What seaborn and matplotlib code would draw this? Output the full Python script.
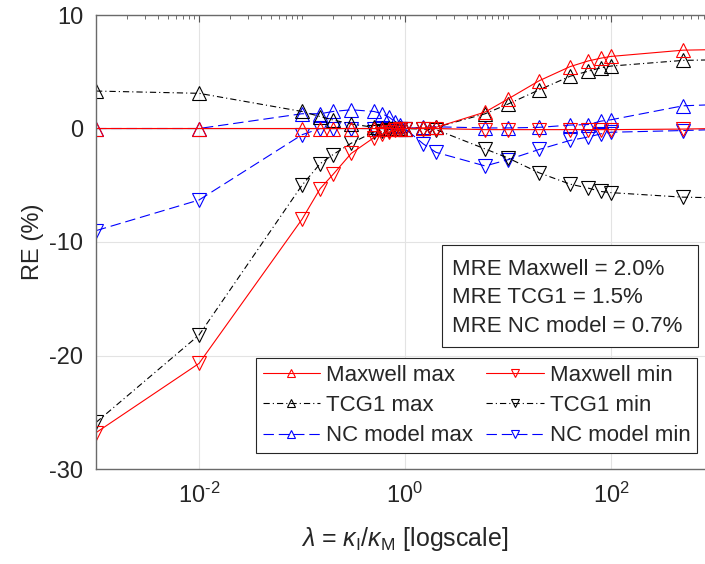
import numpy as np
import pandas as pd
import matplotlib
matplotlib.use("Agg")
import matplotlib.pyplot as plt
import matplotlib.ticker as mticker
from matplotlib.patches import Rectangle
import seaborn as sns

# ---------------- data ----------------
lam = [0.001, 0.01, 0.1, 0.15, 0.2, 0.3, 0.5, 0.6, 0.7, 0.8, 0.9, 1.0,
       1.5, 2, 6, 10, 20, 40, 60, 80, 100, 500, 1000]

maxwell_max = [0, 0, 0, 0, 0, 0, 0, 0, 0, 0, 0, 0,
               0.05, 0.1, 1.45, 2.6, 4.2, 5.45, 5.95, 6.2, 6.35, 6.9, 6.95]
maxwell_min = [-26.8, -20.7, -8.0, -5.3, -4.05, -2.2, -0.8, -0.5, -0.3, -0.15, -0.05, 0,
               0, 0, -0.1, -0.1, -0.1, -0.1, -0.1, -0.1, -0.1, -0.05, 0]
tcg1_max = [3.3, 3.1, 1.5, 1.05, 0.75, 0.4, 0.1, 0.05, 0.03, 0.02, 0.01, 0,
            0.05, 0.1, 1.3, 2.15, 3.4, 4.6, 5.05, 5.35, 5.5, 6.0, 6.05]
tcg1_min = [-25.9, -18.2, -5.0, -3.1, -2.3, -1.3, -0.3, -0.2, -0.1, -0.05, -0.02, 0,
            -0.05, -0.1, -1.8, -2.6, -3.9, -4.9, -5.25, -5.55, -5.65, -6.05, -6.1]
nc_max = [0, 0, 1.3, 1.3, 1.5, 1.65, 1.5, 1.3, 1.0, 0.6, 0.3, 0,
          0.1, 0.15, 0.05, 0.05, 0.1, 0.3, 0.35, 0.65, 0.77, 2.0, 2.1]
nc_min = [-9.0, -6.3, -0.55, 0, 0, 0, 0, 0, 0, 0, 0, 0,
          -1.35, -2.1, -3.3, -2.75, -1.85, -1.05, -0.75, -0.47, -0.33, -0.18, -0.1]

labels = ["Maxwell max", "Maxwell min", "TCG1 max", "TCG1 min",
          "NC model max", "NC model min"]
mre_lines = ["MRE Maxwell = 2.0%", "MRE TCG1 = 1.5%", "MRE NC model = 0.7%"]
x_ticks = [1e-2, 1e0, 1e2]
y_ticks = [-30, -20, -10, 0, 10]

# ---------------- style ----------------
sns.set_style("white")
plt.rcParams["font.family"] = ["Liberation Sans", "DejaVu Sans"]
plt.rcParams["mathtext.fontset"] = "custom"
plt.rcParams["mathtext.rm"] = "Liberation Sans"
plt.rcParams["mathtext.it"] = "Liberation Sans:italic"
plt.rcParams["mathtext.sf"] = "Liberation Sans"
plt.rcParams["lines.scale_dashes"] = False
plt.rcParams["axes.unicode_minus"] = False

TXT = "#262626"
fig = plt.figure(figsize=(7.05, 5.64), dpi=100)
ax = fig.add_axes([96 / 705, 95 / 564, 618 / 705, 454 / 564])

series = [
    (nc_max, "NC model max", "#0000ff", "^", (7.5, 3.5)),
    (nc_min, "NC model min", "#0000ff", "v", (7.5, 3.5)),
    (tcg1_max, "TCG1 max", "black", "^", (4.5, 2.2, 0.8, 2.2)),
    (tcg1_min, "TCG1 min", "black", "v", (4.5, 2.2, 0.8, 2.2)),
    (maxwell_max, "Maxwell max", "#ff0000", "^", None),
    (maxwell_min, "Maxwell min", "#ff0000", "v", None),
]
handles = {}
for vals, name, col, mk, dash in series:
    df = pd.DataFrame({"lam": lam, "re": vals})
    sns.lineplot(data=df, x="lam", y="re", ax=ax, color=col, marker=mk,
                 markersize=9.5, markerfacecolor="none", markeredgecolor=col,
                 markeredgewidth=0.8, linewidth=0.8, label=name, legend=False)
    ln = ax.lines[-1]
    if dash is not None:
        ln.set_dashes(dash)
    handles[name] = ln

ax.set_xscale("log")
ax.set_xlim(1e-3, 1e3)
ax.set_ylim(-30, 10)
ax.set_yticks(y_ticks)
ax.xaxis.set_major_locator(mticker.FixedLocator(x_ticks))
ax.xaxis.set_minor_locator(mticker.LogLocator(base=10.0, subs=np.arange(1, 10), numticks=20))
ax.xaxis.set_minor_formatter(mticker.NullFormatter())
ax.xaxis.set_major_formatter(
    mticker.FuncFormatter(lambda v, p: r"$10^{\text{%d}}$" % int(round(np.log10(v)))))

ax.set_axisbelow(True)
ax.grid(True, which="major", color="#e3e3e3", linewidth=0.8)
ax.tick_params(axis="both", which="both", direction="in", top=True, right=True,
               colors="#555555", labelcolor=TXT, labelsize=17)
ax.tick_params(axis="both", which="major", length=5, width=0.8)
ax.tick_params(axis="x", which="minor", length=3, width=0.6)
ax.tick_params(axis="x", which="major", pad=10)
ax.tick_params(axis="y", which="major", pad=9)
for s in ax.spines.values():
    s.set_color("#6a6a6a")
    s.set_linewidth(1.0)

ax.set_ylabel("RE (%)", fontsize=17, color=TXT, labelpad=4)
ax.set_xlabel(r"$\lambda$ = $\kappa_\mathrm{I}/\kappa_\mathrm{M}$ [logscale]",
              fontsize=18, color=TXT, labelpad=12)

order = ["Maxwell max", "TCG1 max", "NC model max",
         "Maxwell min", "TCG1 min", "NC model min"]
leg = ax.legend([handles[n] for n in order], order, ncol=2, fontsize=16,
                loc="lower right", bbox_to_anchor=(0.9725, 0.035),
                borderaxespad=0, frameon=True, fancybox=False, framealpha=1,
                edgecolor=TXT, handlelength=2.6, handletextpad=0.25,
                columnspacing=0.6, labelspacing=0.42, borderpad=0.3,
                markerscale=0.65)
leg.get_frame().set_linewidth(0.8)
for t in leg.get_texts():
    t.set_color(TXT)

# MRE text box
ax.add_patch(Rectangle((0.56, 0.2687), 0.4142, 0.2247, transform=ax.transAxes,
                       facecolor="white", edgecolor=TXT, linewidth=0.8, zorder=5))
for txt, yy in zip(mre_lines, [0.4405, 0.3767, 0.3128]):
    ax.text(0.5756, yy, txt, transform=ax.transAxes, fontsize=16, color=TXT,
            ha="left", va="center", zorder=6)

fig.savefig("out.png", dpi=100)
